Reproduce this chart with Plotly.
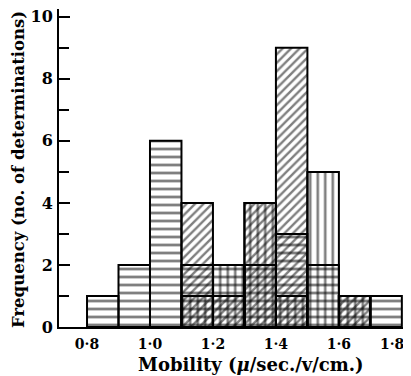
import plotly.graph_objects as go

# Bin left edges (mobility, u/sec./v/cm.), bin width 0.1
bin_left = [0.8, 0.9, 1.0, 1.1, 1.2, 1.3, 1.4, 1.5, 1.6, 1.7]
bin_width = 0.1
# Three overlaid histograms, distinguished by hatching
freq_horizontal = [1, 2, 6, 2, 2, 2, 3, 2, 1, 1]
freq_diagonal = [0, 0, 0, 4, 1, 4, 9, 0, 1, 0]
freq_vertical = [0, 0, 0, 1, 2, 4, 1, 5, 1, 0]

x_tickvals = [0.8, 1.0, 1.2, 1.4, 1.6, 1.8]
x_ticktext = ["0·8", "1·0", "1·2", "1·4", "1·6", "1·8\u00a0\u00a0\u00a0\u00a0"]
y_tickvals = [0, 2, 4, 6, 8, 10]

FONT = "DejaVu Serif"

centers = [b + bin_width / 2 for b in bin_left]

# The page adds an 8px body margin, so the figure is laid out 8px smaller
OFF = 8
PLOT_L, PLOT_R, PLOT_T, PLOT_B = 59, 405, 9, 327
W, H = 411 - OFF, 376 - OFF
PW, PH = PLOT_R - PLOT_L, PLOT_B - PLOT_T


def hatched(values, shape, size, solidity):
    ys = [v if v else None for v in values]
    return go.Bar(
        x=centers, y=ys, width=bin_width,
        marker=dict(
            color="rgba(0,0,0,0)",
            line=dict(color="black", width=2),
            pattern=dict(shape=shape, size=size, solidity=solidity,
                         fgcolor="black", bgcolor="rgba(0,0,0,0)",
                         fillmode="overlay"),
        ),
        showlegend=False, hoverinfo="skip",
    )


fig = go.Figure()
fig.add_trace(hatched(freq_horizontal, "-", 8, 0.35))
fig.add_trace(hatched(freq_diagonal, "/", 6, 0.4))
fig.add_trace(hatched(freq_vertical, "|", 7.5, 0.35))

fig.update_layout(
    width=W, height=H,
    margin=dict(l=PLOT_L - OFF, r=411 - PLOT_R, t=PLOT_T - OFF,
                b=H - (PLOT_B - OFF)),
    barmode="overlay",
    plot_bgcolor="white", paper_bgcolor="white",
    font=dict(family=FONT, size=15, color="black", weight="bold"),
    xaxis=dict(
        range=[0.711, 1.81], showgrid=False, zeroline=False, automargin=False,
        showline=True, linecolor="black", linewidth=2,
        tickvals=x_tickvals, ticktext=x_ticktext,
        ticks="outside", ticklen=3, tickcolor="rgba(0,0,0,0)",
        ticklabeloverflow="allow",
        tickfont=dict(family=FONT, size=14, weight="bold"),
    ),
    yaxis=dict(
        range=[0, 10.25], showgrid=False, zeroline=False, automargin=False,
        showline=True, linecolor="black", linewidth=2,
        tickvals=y_tickvals, ticks="inside", ticklen=11, tickwidth=2,
        tickcolor="black", ticklabeloverflow="allow", ticklabelstandoff=1,
        minor=dict(dtick=1, ticks="inside", ticklen=10, tickwidth=2,
                   tickcolor="black", showgrid=False),
        tickfont=dict(family=FONT, size=16, weight="bold"),
    ),
    annotations=[
        dict(text="Mobility (<i>μ</i>/sec./v/cm.)", xref="paper", yref="paper",
             x=(251 - PLOT_L) / PW, y=-(364 - PLOT_B) / PH, showarrow=False,
             xanchor="center", yanchor="middle",
             font=dict(family=FONT, size=18, weight="bold")),
        dict(text="Frequency (no. of determinations)", xref="paper", yref="paper",
             x=-(PLOT_L - 18) / PW, y=(PLOT_B - 170) / PH, textangle=-90,
             showarrow=False, xanchor="center", yanchor="middle",
             font=dict(family=FONT, size=16.5, weight="bold")),
    ],
)

fig.write_html("out.html")
